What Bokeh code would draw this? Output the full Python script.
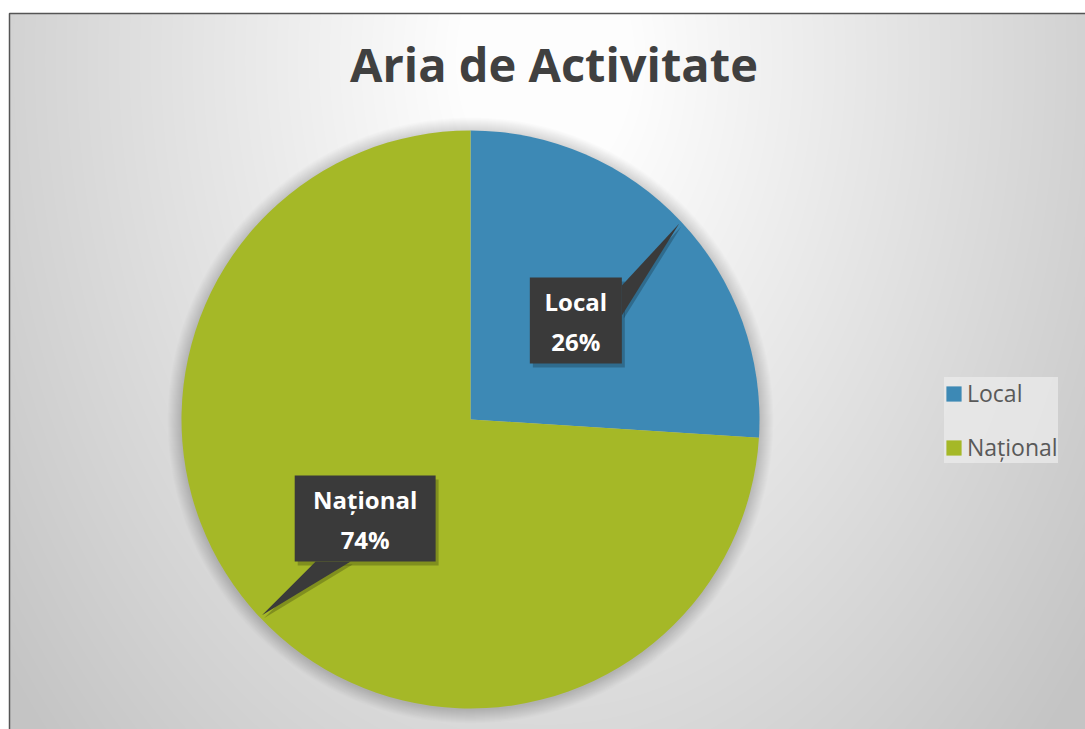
import numpy as np
from bokeh.plotting import figure
from bokeh.models import Range1d, Legend, LegendItem, ColumnDataSource
from bokeh.core.properties import value
from bokeh.embed import file_html
from bokeh.resources import INLINE

# ---- data ----
title_text = "Aria de Activitate"
categories = ["Local", "Național"]
shares = [26, 74]
colors = ["#3D89B5", "#A5B827"]

# ---- layout ----
W, H = 1085, 729
cx, cy, R = 470, 310, 289

p = figure(width=W, height=H, output_backend="svg", toolbar_location=None,
           x_range=Range1d(0, W), y_range=Range1d(0, H),
           x_axis_type=None, y_axis_type=None, min_border=0,
           outline_line_color=None, background_fill_color="white",
           border_fill_color="white")
p.grid.visible = False

# background gradient (style only)
gx0, gtop = 9, 716
gw, gh = W - gx0, gtop
X, Y = np.meshgrid(np.arange(gw) + gx0 + 0.5, np.arange(gh) + 0.5)
d = np.hypot(X - 545, (Y - 669) / 1.45)
g = np.clip(253 - 0.095 * np.clip(d - 90, 0, None), 196, 253).astype(np.uint32)
img = (np.uint32(255) << 24) | (g << 16) | (g << 8) | g
p.image_rgba(image=[img], x=gx0, y=0, dw=gw, dh=gh)

# frame border (top / left visible)
p.line([gx0, gx0, W], [0, gtop, gtop], line_color="#555555", line_width=1.5)

# soft shadow around pie
for k in range(1, 15):
    p.circle(x=cx, y=cy - 1, radius=R + k, fill_color="black", fill_alpha=0.011,
             line_color=None)

# ---- pie ----
total = float(sum(shares))
cum = np.cumsum([0] + shares)
start = [np.deg2rad(90 - 360 * cum[i] / total) for i in range(len(shares))]
end = [np.deg2rad(90 - 360 * cum[i + 1] / total) for i in range(len(shares))]
src = ColumnDataSource(dict(cat=categories, val=shares, start=start, end=end, color=colors))
pie = p.wedge(x=cx, y=cy, radius=R, start_angle="start", end_angle="end",
              direction="clock", fill_color="color", line_color=None, source=src)

# ---- callouts ----
box_fill = "#3A3A3A"
for i, (name, v) in enumerate(zip(categories, shares)):
    mid = (start[i] + end[i]) / 2
    tx, ty = cx + 0.99 * R * np.cos(mid), cy + 0.99 * R * np.sin(mid)
    bx, by = cx + 0.5 * R * np.cos(mid), cy + 0.5 * R * np.sin(mid)
    hw = (16.3 * len(name) + 10.5) / 2
    hh = 43
    dx, dy = tx - bx, ty - by
    sx, sy = np.sign(dx), np.sign(dy)
    if abs(dx) - hw > abs(dy) - hh:
        ex = bx + sx * hw
        corner = by + sy * hh
        px = [ex, ex, tx]
        py = [corner - sy * 8, corner - sy * 38, ty]
    else:
        ey = by + sy * hh
        corner = bx + sx * hw
        px = [corner - sx * 21, corner - sx * 56, tx]
        py = [ey, ey, ty]
    # shadow
    p.quad(left=bx - hw + 3, right=bx + hw + 3, bottom=by - hh - 4, top=by + hh - 4,
           fill_color="black", fill_alpha=0.22, line_color=None)
    p.patch([x + 2 for x in px], [y - 3 for y in py], fill_color="black",
            fill_alpha=0.22, line_color=None)
    p.patch(px, py, fill_color=box_fill, line_color=None)
    p.quad(left=bx - hw, right=bx + hw, bottom=by - hh, top=by + hh,
           fill_color=box_fill, line_color=None)
    p.text(x=[bx, bx], y=[by + 19, by - 21], text=[name, f"{v}%"],
           text_font=value("Open Sans"), text_font_style="bold",
           text_font_size="24px", text_color="white",
           text_align="center", text_baseline="middle")

# ---- title ----
p.text(x=[553.5], y=[H - 63], text=[title_text], text_font=value("Open Sans"),
       text_font_style="bold", text_font_size="47px", text_color="#404040",
       text_align="center", text_baseline="middle")

# ---- legend ----
legend = Legend(items=[LegendItem(label=c, renderers=[pie], index=i)
                       for i, c in enumerate(categories)],
                location=(944, 266), orientation="vertical",
                label_text_font="Open Sans", label_text_font_size="23px",
                label_text_color="#595959", glyph_width=19, glyph_height=19,
                label_standoff=4, spacing=22, padding=20, margin=0,
                border_line_color=None, background_fill_color="#ebebeb",
                background_fill_alpha=0.75)
p.add_layout(legend)

open("out.html", "w").write(file_html(p, INLINE))
